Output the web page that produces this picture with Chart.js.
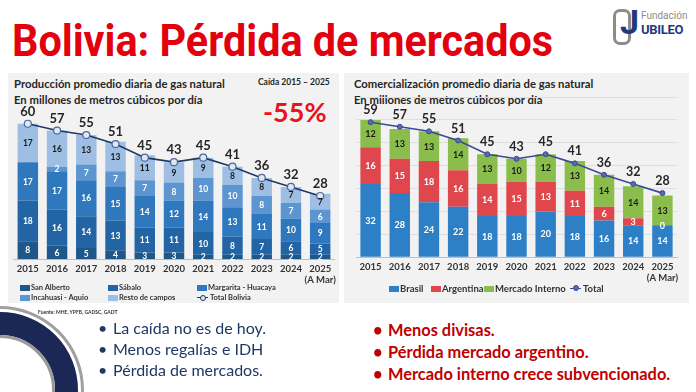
<!DOCTYPE html>
<html>
<head>
<meta charset="utf-8">
<script src="https://cdn.jsdelivr.net/npm/chart.js@4"></script>
<style>
  body { margin: 0; width: 696px; height: 392px; overflow: hidden; background: #fff; position: relative; font-family: Lato, "Open Sans", sans-serif; color: #262626; }
  .abs { position: absolute; white-space: nowrap; }
  #title { left: 12px; top: 16px; font-family: Roboto, sans-serif; font-weight: 700; font-size: 45px; color: #e3000f; transform-origin: 0 0; line-height: 1.1; }
  .panel { position: absolute; background: #f2f2f2; }
  .sub { font-weight: 700; font-size: 11.3px; line-height: 16px; color: #262626; }
  .leg { position: absolute; font-weight: 700; white-space: nowrap; color: #333; }
  .leg i { position: absolute; display: block; }
  .ring { position: absolute; border-radius: 50%; box-sizing: border-box; }
  ul.bul { position: absolute; margin: 0; padding: 0; list-style: none; font-size: 16px; line-height: 21px; }
  ul.bul li::before { content: "\2022"; position: absolute; margin-left: -15px; }
</style>
</head>
<body>

<div id="title" class="abs">Bolivia: Pérdida de mercados</div>

<!-- logo -->
<div class="abs" style="left:613px;top:9px;width:12px;height:30px;border:3px solid #8c8c8c;border-radius:7px;"></div>
<div class="abs" style="left:620px;top:2px;font:700 34px Roboto,sans-serif;color:#1f3a7a;">J</div>
<div class="abs" style="left:641px;top:10px;font:400 10px Roboto,sans-serif;color:#8c8c8c;">Fundación</div>
<div class="abs" style="left:641px;top:22px;font:700 13px Roboto,sans-serif;color:#1f3a7a;letter-spacing:-0.3px;">UBILEO</div>

<div class="panel" style="left:8px;top:73px;width:331px;height:230px;"></div>
<div class="panel" style="left:344px;top:73px;width:345px;height:230px;"></div>

<div class="abs sub" style="left:14px;top:76px;">Producción promedio diaria de gas natural<br>En millones de metros cúbicos por día</div>
<div class="abs" style="left:258px;top:77px;font-weight:700;font-size:8.5px;">Caída 2015 – 2025</div>
<div class="abs" style="left:263px;top:95px;font-weight:700;font-size:27px;color:#e8141b;">-55%</div>

<div class="abs sub" style="left:354px;top:76px;">Comercialización promedio diaria de gas natural<br>En millones de metros cúbicos por día</div>

<canvas id="prodChart" class="abs" style="left:8px;top:96px;"></canvas>
<canvas id="salesChart" class="abs" style="left:344px;top:92px;"></canvas>

<div id="prodLegend"></div>
<div id="salesLegend"></div>

<div class="abs" style="left:38px;top:309px;font-weight:700;font-size:5px;color:#333;">Fuente: MHE, YPFB, GADSC, GADT</div>

<!-- decorative rings -->
<div class="ring" style="left:-84px;top:306px;width:168px;height:168px;border:3px solid #a0a0a0;"></div>
<div class="ring" style="left:-78px;top:312px;width:156px;height:156px;border:23px solid #1b2856;"></div>
<div class="ring" style="left:-55px;top:335px;width:110px;height:110px;border:3px solid #9a9a9a;"></div>

<ul class="bul" style="left:113px;top:317px;color:#1f3864;">
  <li>La caída no es de hoy.</li>
  <li>Menos regalías e IDH</li>
  <li>Pérdida de mercados.</li>
</ul>
<ul class="bul" style="left:388px;top:319px;color:#c00000;font-weight:700;font-size:16.4px;line-height:22px;">
  <li>Menos divisas.</li>
  <li>Pérdida mercado argentino.</li>
  <li>Mercado interno crece subvencionado.</li>
</ul>

<script>
// categories
const years = ['2015', '2016', '2017', '2018', '2019', '2020', '2021', '2022', '2023', '2024', ['2025', '(A Mar)']];

// produccion por campo (MMm3/d)
const prodNames = ['San Alberto', 'Sábalo', 'Margarita - Huacaya', 'Incahuasi - Aquio', 'Resto de campos'];
const sanAlberto = [8, 6, 5, 4, 3, 3, 2, 2, 2, 2, 2];
const sabalo     = [18, 16, 14, 13, 11, 11, 10, 8, 7, 6, 5];
const margarita  = [17, 17, 16, 15, 14, 12, 14, 13, 11, 10, 9];
const incahuasi  = [0, 2, 7, 7, 7, 8, 10, 10, 8, 7, 6];
const resto      = [17, 16, 13, 13, 11, 9, 9, 8, 8, 7, 7];
const prodTotalName = 'Total Bolivia';
const prodTotal  = [60, 57, 55, 51, 45, 43, 45, 41, 36, 32, 28];

// comercializacion por mercado (MMm3/d)
const salesNames = ['Brasil', 'Argentina', 'Mercado Interno'];
const brasil         = [32, 28, 24, 22, 18, 18, 20, 18, 16, 14, 14];
const argentina      = [16, 15, 18, 16, 14, 15, 13, 11, 6, 3, 0];
const mercadoInterno = [12, 13, 13, 14, 13, 10, 12, 13, 14, 14, 13];
const salesTotalName = 'Total';
const salesTotal     = [59, 57, 55, 51, 45, 43, 45, 41, 36, 32, 28];

const prodColors  = ['#1f5788', '#2264a4', '#2f78be', '#5d95d0', '#9ebfe3'];
const salesColors = ['#2e80c6', '#e0474c', '#8bbd4c'];

const valueLabels = {
    id: 'valueLabels',
    afterDatasetsDraw(chart, args, opts) {
        const ctx = chart.ctx;
        ctx.save();
        ctx.textAlign = 'center';
        ctx.textBaseline = 'middle';
        chart.data.datasets.forEach((ds, i) => {
            const meta = chart.getDatasetMeta(i);
            meta.data.forEach((el, j) => {
                const v = ds.data[j];
                if (ds.type === 'line') {
                    ctx.font = opts.totalFont;
                    ctx.fillStyle = '#262626';
                    ctx.fillText(v, el.x, el.y - opts.totalOffset);
                } else {
                    if (v === 0 && !opts.showZero) return;
                    ctx.font = opts.segFont;
                    ctx.fillStyle = opts.darkText.includes(i) ? '#1a1a1a' : '#ffffff';
                    ctx.fillText(v, el.x, (el.y + el.base) / 2 + 0.5);
                }
            });
        });
        ctx.restore();
    }
};

function makeChart(id, w, h, pad, names, series, colors, totalName, total, line, gridOn, labelOpts) {
    const datasets = series.map((d, i) => ({
        type: 'bar', label: names[i], data: d, backgroundColor: colors[i],
        stack: 's', order: 1, categoryPercentage: 0.7, barPercentage: 1
    }));
    datasets.push(Object.assign({
        type: 'line', label: totalName, data: total, stack: 'total', order: 0,
        borderWidth: 1.6, tension: 0
    }, line));
    const cv = document.getElementById(id);
    cv.style.width = w + 'px';
    cv.style.height = h + 'px';
    return new Chart(cv, {
        type: 'bar',
        data: { labels: years, datasets: datasets },
        options: {
            responsive: false, animation: false, devicePixelRatio: 1,
            layout: { padding: pad },
            plugins: { legend: { display: false }, tooltip: { enabled: false }, valueLabels: labelOpts },
            scales: {
                x: {
                    stacked: true,
                    grid: { display: false, drawTicks: false },
                    border: { color: '#bfbfbf' },
                    ticks: { color: '#333', font: { family: 'Lato', weight: 'bold', size: 9.5 }, maxRotation: 0, autoSkip: false, padding: 4 }
                },
                y: {
                    stacked: true, min: 0, max: 70,
                    display: gridOn,
                    ticks: { display: false, stepSize: 10 },
                    grid: { color: '#dedede', drawTicks: false },
                    border: { display: false }
                }
            }
        },
        plugins: [valueLabels]
    });
}

makeChart('prodChart', 332, 194, { left: 5, right: 0, top: 5, bottom: 0 },
    prodNames, [sanAlberto, sabalo, margarita, incahuasi, resto], prodColors,
    prodTotalName, prodTotal,
    { borderColor: '#203864', pointRadius: 3.5, pointBackgroundColor: '#dfe7f3', pointBorderColor: '#4a6a9c', pointBorderWidth: 1.2 },
    false,
    { totalFont: 'bold 13px Lato', totalOffset: 12, segFont: 'bold 8.5px Lato', darkText: [4], showZero: false });

makeChart('salesChart', 345, 196, { left: 12, right: 12, top: 5, bottom: 0 },
    salesNames, [brasil, argentina, mercadoInterno], salesColors,
    salesTotalName, salesTotal,
    { borderColor: '#3b4a94', pointRadius: 2.5, pointBackgroundColor: '#5a6aaa', pointBorderColor: '#3b4a94', pointBorderWidth: 1 },
    true,
    { totalFont: 'bold 12.5px Lato', totalOffset: 12, segFont: 'bold 9px Lato', darkText: [2], showZero: true });

// legends
function legendItem(parent, label, color, x, y, size, isLine) {
    const d = document.createElement('div');
    d.className = 'leg';
    d.style.left = x + 'px';
    d.style.top = (y - size * 0.65) + 'px';
    d.style.fontSize = size + 'px';
    d.style.paddingLeft = (isLine ? 13 : 11) + 'px';
    d.textContent = label;
    const sw = document.createElement('i');
    if (isLine) {
        sw.style.cssText = 'left:0;top:' + (size * 0.65 - 1) + 'px;width:11px;height:0;border-top:1.5px solid ' + color.line + ';';
        const dot = document.createElement('i');
        dot.style.cssText = 'left:3px;top:' + (size * 0.65 - 3.5) + 'px;width:4px;height:4px;border-radius:50%;background:' + color.fill + ';border:1px solid ' + color.line + ';';
        d.appendChild(dot);
    } else {
        sw.style.cssText = 'left:0;top:' + (size * 0.65 - 3) + 'px;width:10px;height:6px;background:' + color + ';';
    }
    d.insertBefore(sw, d.firstChild);
    parent.appendChild(d);
}

const pl = document.getElementById('prodLegend');
const prodCols = [20, 108, 197];
const prodRows = [288, 298];
const prodItems = prodNames.map((n, i) => [n, prodColors[i], false]);
prodItems.push([prodTotalName, { line: '#203864', fill: '#dfe7f3' }, true]);
prodItems.forEach((it, n) => {
    legendItem(pl, it[0], it[1], prodCols[n % 3], prodRows[Math.floor(n / 3)], 7.5, it[2]);
});

const sl = document.getElementById('salesLegend');
const salesX = [389, 431, 484, 570];
const salesItems = salesNames.map((n, i) => [n, salesColors[i], false]);
salesItems.push([salesTotalName, { line: '#3b4a94', fill: '#5a6aaa' }, true]);
salesItems.forEach((it, n) => legendItem(sl, it[0], it[1], salesX[n], 289, 9.5, it[2]));

// title width
const t = document.getElementById('title');
t.style.transform = 'scaleX(' + (541 / t.offsetWidth) + ')';
</script>
</body>
</html>
